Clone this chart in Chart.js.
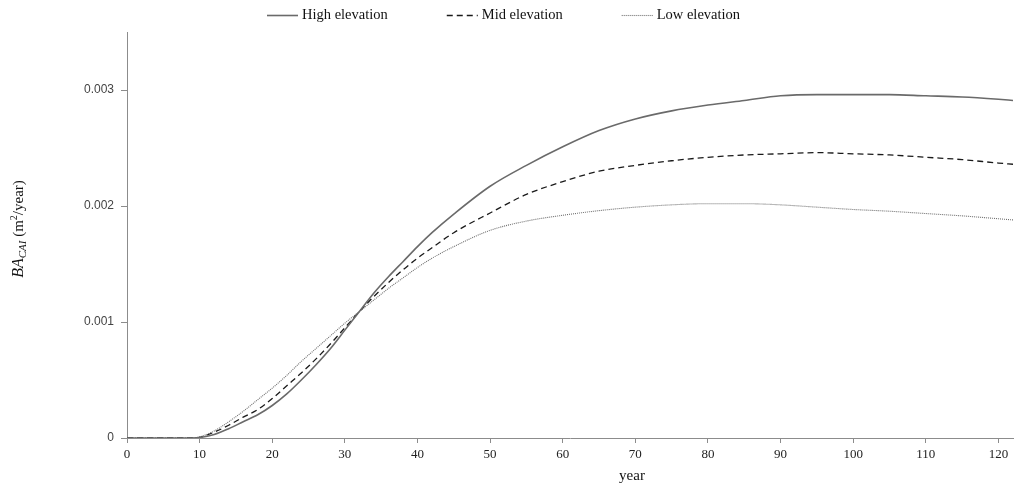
<!DOCTYPE html>
<html>
  <head>
    <title>BA CAI by elevation</title>
    <script src="https://cdn.jsdelivr.net/npm/chart.js"></script>
    <style>
      body { margin: 0; background: #fff; }
    </style>
  </head>
  <body>
    <canvas id="bai-chart" width="1015" height="489"></canvas>

    <script>
      // values (m2/year)
      const years = [0, 5, 9, 10, 12, 14, 16, 18, 20, 22, 24, 26, 28, 30, 32, 34, 36, 38, 40, 42, 45,
        50, 55, 60, 65, 70, 75, 80, 85, 90, 95, 100, 105, 110, 115, 120, 122];
      const highElevation = [0, 0, 0, 0.000004, 0.00003, 0.00008, 0.00014, 0.0002, 0.00028, 0.00038,
        0.0005, 0.00063, 0.00077, 0.00093, 0.00109, 0.00125, 0.00139, 0.00152, 0.00165, 0.00177, 0.00193,
        0.00217, 0.00235, 0.00251, 0.00265, 0.00275, 0.00282, 0.00287, 0.00291, 0.00295, 0.00296,
        0.00296, 0.00296, 0.00295, 0.00294, 0.00292, 0.00291];
      const midElevation = [0, 0, 0, 0.000005, 0.00005, 0.00011, 0.00018, 0.000245, 0.00034, 0.00045,
        0.00056, 0.00068, 0.00081, 0.00095, 0.00109, 0.00122, 0.00134, 0.00145, 0.00155, 0.00164, 0.00177,
        0.00194, 0.0021, 0.00221, 0.0023, 0.00235, 0.00239, 0.00242, 0.00244, 0.00245, 0.00246,
        0.00245, 0.00244, 0.00242, 0.0024, 0.00237, 0.00236];
      const lowElevation = [0, 0, 0, 0.00001, 0.00006, 0.00014, 0.00023, 0.00033, 0.00043, 0.00054,
        0.00066, 0.00077, 0.00088, 0.00099, 0.00109, 0.00119, 0.00129, 0.00138, 0.00147, 0.00155, 0.00165,
        0.00179, 0.00187, 0.00192, 0.00196, 0.00199, 0.00201, 0.00202, 0.00202, 0.00201, 0.00199,
        0.00197, 0.001955, 0.001935, 0.001915, 0.00189, 0.00188];
      const seriesNames = ["High elevation", "Mid elevation", "Low elevation"];
      const xTicks = [0, 10, 20, 30, 40, 50, 60, 70, 80, 90, 100, 110, 120];
      const yTicks = [0, 0.001, 0.002, 0.003];

      const serif = '"Liberation Serif", "Times New Roman", serif';

      function points(values) {
        return years.map((yr, i) => ({ x: yr, y: values[i] }));
      }

      // legend drawn by hand so the spacing can follow the original
      const lineLegend = {
        id: "lineLegend",
        afterDraw(chart) {
          const ctx = chart.ctx;
          let x = 267;
          const y = 15;
          ctx.save();
          ctx.font = "14.5px " + serif;
          ctx.textBaseline = "middle";
          ctx.fillStyle = "#111";
          chart.data.datasets.forEach((ds) => {
            ctx.strokeStyle = ds.borderColor;
            ctx.lineWidth = ds.borderWidth;
            ctx.setLineDash(ds.borderDash || []);
            ctx.beginPath();
            ctx.moveTo(x, y + 0.5);
            ctx.lineTo(x + 31, y + 0.5);
            ctx.stroke();
            x += 35;
            ctx.fillText(ds.label, x, y);
            x += ctx.measureText(ds.label).width + 59;
          });
          ctx.restore();
        },
      };

      // axis titles (y title needs italic + sub/superscript)
      const axisTitles = {
        id: "axisTitles",
        afterDraw(chart) {
          const ctx = chart.ctx;
          ctx.save();
          ctx.fillStyle = "#111";
          ctx.textBaseline = "middle";
          ctx.font = "15px " + serif;
          ctx.textAlign = "center";
          ctx.fillText("year", 632, 476);

          const parts = [
            { t: "BA", f: "italic 16px " + serif, dy: 0 },
            { t: "CAI", f: "italic 11px " + serif, dy: 4 },
            { t: " (m", f: "15px " + serif, dy: 0 },
            { t: "2", f: "10px " + serif, dy: -5 },
            { t: "/year)", f: "15px " + serif, dy: 0 },
          ];
          let total = 0;
          parts.forEach((p) => {
            ctx.font = p.f;
            p.w = ctx.measureText(p.t).width;
            total += p.w;
          });
          ctx.translate(19, 229);
          ctx.rotate(-Math.PI / 2);
          ctx.textAlign = "left";
          let cx = -total / 2;
          parts.forEach((p) => {
            ctx.font = p.f;
            ctx.fillText(p.t, cx, p.dy);
            cx += p.w;
          });
          ctx.restore();
        },
      };

      const ctx = document.getElementById("bai-chart").getContext("2d");
      new Chart(ctx, {
        type: "line",
        data: {
          datasets: [
            {
              label: seriesNames[0],
              data: points(highElevation),
              borderColor: "#6a6a6a",
              borderWidth: 1.6,
            },
            {
              label: seriesNames[1],
              data: points(midElevation),
              borderColor: "#1a1a1a",
              borderWidth: 1.3,
              borderDash: [6, 4],
            },
            {
              label: seriesNames[2],
              data: points(lowElevation),
              borderColor: "#6f6f6f",
              borderWidth: 1.1,
              borderDash: [1, 1],
            },
          ],
        },
        options: {
          responsive: false,
          animation: false,
          events: [],
          layout: { padding: { top: 32, right: 2, left: 0, bottom: 0 } },
          elements: {
            point: { radius: 0 },
            line: { cubicInterpolationMode: "monotone", fill: false },
          },
          plugins: {
            legend: { display: false },
            tooltip: { enabled: false },
          },
          scales: {
            x: {
              type: "linear",
              min: 0,
              max: 122,
              afterFit: (scale) => { scale.height = 51; },
              afterBuildTicks: (scale) => {
                scale.ticks = xTicks.map((v) => ({ value: v }));
              },
              border: { color: "#8c8c8c" },
              grid: { drawOnChartArea: false, tickLength: 5, color: "#8c8c8c" },
              ticks: {
                padding: 4,
                color: "#222",
                font: { family: serif, size: 13 },
              },
            },
            y: {
              min: 0,
              max: 0.0035,
              afterFit: (scale) => { scale.width = 127; },
              afterBuildTicks: (scale) => {
                scale.ticks = yTicks.map((v) => ({ value: v }));
              },
              border: { color: "#8c8c8c" },
              grid: { drawOnChartArea: false, tickLength: 6, color: "#8c8c8c" },
              ticks: {
                padding: 7,
                color: "#444",
                font: { family: '"Liberation Sans", Arial, sans-serif', size: 12 },
                callback: (v) => (v === 0 ? "0" : v.toFixed(3)),
              },
            },
          },
        },
        plugins: [lineLegend, axisTitles],
      });
    </script>
  </body>
</html>
